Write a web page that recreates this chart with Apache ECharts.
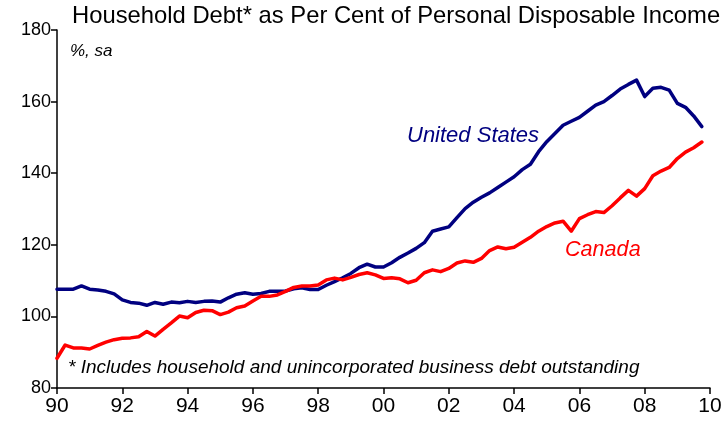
<!DOCTYPE html>
<html>
<head>
<meta charset="utf-8">
<script src="https://cdn.jsdelivr.net/npm/echarts@6/dist/echarts.min.js"></script>
<style>
  html, body { margin: 0; padding: 0; background: #fff; }
  #chart { width: 728px; height: 421px; }
</style>
</head>
<body>
<div id="chart"></div>
<script>
// Quarterly observations, 1990Q1 to 2009Q4 (household debt as % of disposable income)
const startYear = 1990;
const quartersPerYear = 4;

const unitedStates = [
  107.6, 107.6, 107.6, 108.5, 107.6, 107.4, 107.0, 106.3,
  104.6, 103.9, 103.7, 103.1, 103.9, 103.4, 104.0, 103.8,
  104.2, 103.9, 104.2, 104.3, 104.0, 105.2, 106.2, 106.6,
  106.2, 106.4, 107.0, 107.0, 107.1, 107.7, 108.0, 107.5,
  107.5, 108.7, 109.7, 110.8, 112.0, 113.6, 114.6, 113.8,
  113.8, 115.0, 116.5, 117.7, 119.0, 120.6, 123.8, 124.4,
  125.0, 127.6, 130.1, 131.9, 133.3, 134.5, 136.0, 137.5,
  139.0, 141.0, 142.5, 146.0, 148.8, 151.1, 153.4, 154.5,
  155.6, 157.3, 159.0, 160.0, 161.7, 163.5, 164.8, 166.0,
  161.4, 163.7, 164.0, 163.2, 159.5, 158.4, 156.0, 153.0
];

const canada = [
  88.3, 92.0, 91.2, 91.2, 90.9, 91.9, 92.8, 93.5,
  93.9, 94.0, 94.3, 95.8, 94.5, 96.4, 98.2, 100.1,
  99.6, 101.1, 101.7, 101.6, 100.5, 101.2, 102.4, 102.9,
  104.3, 105.6, 105.6, 106.0, 107.0, 108.1, 108.5, 108.5,
  108.8, 110.2, 110.7, 110.2, 110.9, 111.7, 112.2, 111.6,
  110.6, 110.8, 110.5, 109.4, 110.1, 112.2, 113.0, 112.5,
  113.4, 114.9, 115.5, 115.1, 116.2, 118.4, 119.4, 118.9,
  119.3, 120.7, 122.1, 123.8, 125.1, 126.1, 126.6, 123.8,
  127.3, 128.4, 129.3, 129.0, 130.9, 133.1, 135.2, 133.6,
  135.7, 139.3, 140.6, 141.6, 144.1, 145.9, 147.1, 148.7
];

// Axis ticks
const yTicks = [80, 100, 120, 140, 160, 180];
const xTickYears = [1990, 1992, 1994, 1996, 1998, 2000, 2002, 2004, 2006, 2008, 2010];

const NAVY = '#000080';
const RED = '#ff0000';
const FONT = '"Liberation Sans", Arial, sans-serif';

function toPairs(values) {
  return values.map((v, i) => [startYear + i / quartersPerYear, v]);
}

const chart = echarts.init(document.getElementById('chart'), null, { renderer: 'canvas' });

chart.setOption({
  animation: false,
  backgroundColor: '#ffffff',
  grid: { left: 57, right: 18, top: 30, bottom: 33, containLabel: false },
  xAxis: {
    type: 'value',
    min: xTickYears[0],
    max: xTickYears[xTickYears.length - 1],
    interval: 2,
    axisLine: { show: true, lineStyle: { color: '#000', width: 1.5 } },
    axisTick: { show: true, inside: false, length: 6, lineStyle: { color: '#000', width: 1.5 } },
    axisLabel: {
      color: '#000', fontFamily: FONT, fontSize: 21, margin: 8,
      formatter: v => String(v % 100).padStart(2, '0')
    },
    splitLine: { show: false }
  },
  yAxis: {
    type: 'value',
    min: yTicks[0],
    max: yTicks[yTicks.length - 1],
    interval: 20,
    axisLine: { show: true, lineStyle: { color: '#000', width: 1.5 } },
    axisTick: { show: true, inside: false, length: 6, lineStyle: { color: '#000', width: 1.5 } },
    axisLabel: { color: '#000', fontFamily: FONT, fontSize: 18, margin: 6 },
    splitLine: { show: false }
  },
  series: [
    {
      name: 'United States',
      type: 'line',
      data: toPairs(unitedStates),
      showSymbol: false,
      lineStyle: { color: NAVY, width: 3.5, join: 'round', cap: 'round' },
      z: 2
    },
    {
      name: 'Canada',
      type: 'line',
      data: toPairs(canada),
      showSymbol: false,
      lineStyle: { color: RED, width: 3.5, join: 'round', cap: 'round' },
      z: 3
    }
  ],
  graphic: [
    {
      type: 'text', left: 72, top: 4,
      style: { text: 'Household Debt* as Per Cent of Personal Disposable Income',
               fill: '#000', font: '23.8px ' + FONT }
    },
    {
      type: 'text', left: 70, top: 43,
      style: { text: '%, sa', fill: '#000', font: 'italic 17px ' + FONT }
    },
    {
      type: 'text', left: 407, top: 125,
      style: { text: 'United States', fill: NAVY, font: 'italic 22px ' + FONT }
    },
    {
      type: 'text', left: 565, top: 239,
      style: { text: 'Canada', fill: RED, font: 'italic 21.6px ' + FONT }
    },
    {
      type: 'text', left: 68, top: 358,
      style: { text: '* Includes household and unincorporated business debt outstanding',
               fill: '#000', font: 'italic 19px ' + FONT }
    }
  ]
});
</script>
</body>
</html>
